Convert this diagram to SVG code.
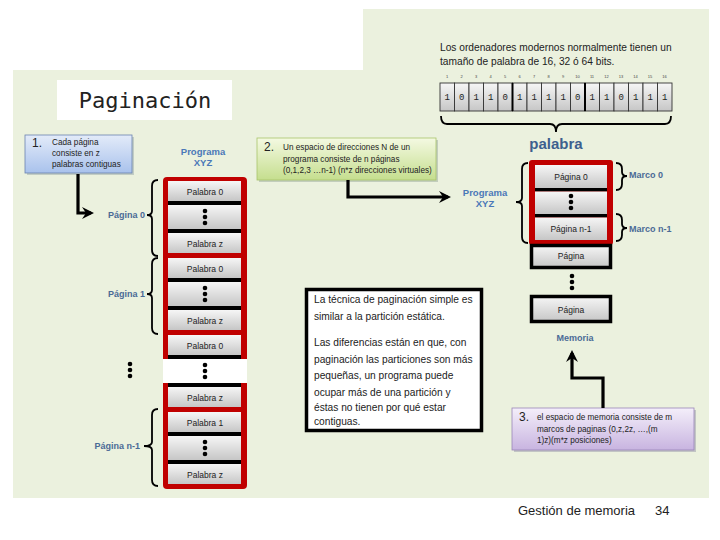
<svg xmlns="http://www.w3.org/2000/svg" width="720" height="540" viewBox="0 0 720 540">
<defs>
<linearGradient id="cell" x1="0" y1="0" x2="0" y2="1"><stop offset="0" stop-color="#f6f6f6"/><stop offset="1" stop-color="#c6c6c6"/></linearGradient>
<linearGradient id="blue" x1="0" y1="0" x2="0" y2="1"><stop offset="0" stop-color="#e3ebf9"/><stop offset="1" stop-color="#a9c2ec"/></linearGradient>
<linearGradient id="green" x1="0" y1="0" x2="0" y2="1"><stop offset="0" stop-color="#f4f9e2"/><stop offset="1" stop-color="#c5de8e"/></linearGradient>
<linearGradient id="purple" x1="0" y1="0" x2="0" y2="1"><stop offset="0" stop-color="#f4effa"/><stop offset="1" stop-color="#c8b4e0"/></linearGradient>
<marker id="ah" viewBox="0 0 12 12" refX="9" refY="6" markerWidth="12" markerHeight="12" markerUnits="userSpaceOnUse" orient="auto">
<path d="M0,0 L12,6 L0,12 L4,6 Z" fill="#000"/>
</marker>
<g id="dots"><circle cx="0" cy="0" r="2.3"/><circle cx="0" cy="6" r="2.3"/><circle cx="0" cy="12" r="2.3"/></g>
</defs>
<style>
.lbl{font-family:"Liberation Sans",Arial,sans-serif;font-size:9px;font-weight:bold;fill:#4a6a96}
.prog{font-family:"Liberation Sans",Arial,sans-serif;font-size:9.5px;font-weight:bold;fill:#4a78b8;text-anchor:middle}
.cl{font-family:"Liberation Sans",Arial,sans-serif;font-size:8.5px;fill:#222;text-anchor:middle}
.sm{font-family:"Liberation Sans",Arial,sans-serif;font-size:8.2px;fill:#222}
.num{font-family:"Liberation Sans",Arial,sans-serif;font-size:12px;fill:#222}
.txt{font-family:"Liberation Sans",Arial,sans-serif;font-size:10.2px;fill:#222}
.bit{font-family:"Liberation Mono",monospace;font-size:9px;fill:#222;text-anchor:middle}
.bn{font-family:"Liberation Sans",Arial,sans-serif;font-size:4px;fill:#444;text-anchor:middle}
.br{fill:none;stroke:#000;stroke-width:1.8}
.conn{fill:none;stroke:#000;stroke-width:3.2}
.c{fill:url(#cell)}
</style>

<rect x="0" y="0" width="720" height="540" fill="#fff"/>
<path d="M13,70 L363,70 L363,9 L709,9 L709,498 L13,498 Z" fill="#ebf1de"/>

<g id="title">
<rect x="57" y="80" width="175" height="40" fill="#fff"/>
<text x="145" y="108" text-anchor="middle" font-family="DejaVu Sans Mono, monospace" font-size="22" fill="#222">Paginación</text>
</g>

<g id="box1">
<rect x="27" y="137" width="107" height="38" fill="#9aa" opacity="0.5"/>
<rect x="25" y="135" width="107" height="38" fill="url(#blue)" stroke="#6a82b0" stroke-width="0.8"/>
<text x="32" y="147" class="num">1.</text>
<text class="sm"><tspan x="52" y="145">Cada página</tspan><tspan x="52" y="156">consiste en z</tspan><tspan x="52" y="167">palabras contiguas</tspan></text>
</g>

<g id="box2">
<rect x="259" y="140" width="179" height="42" fill="#9a9" opacity="0.5"/>
<rect x="257" y="138" width="179" height="42" fill="url(#green)" stroke="#a9c46a" stroke-width="0.8"/>
<text x="264" y="151" class="num">2.</text>
<text class="sm"><tspan x="283" y="150">Un espacio de direcciones N de un</tspan><tspan x="283" y="161.5">programa consiste de n páginas</tspan><tspan x="283" y="173">(0,1,2,3 …n-1) (n*z direcciones virtuales)</tspan></text>
</g>

<g id="box3">
<rect x="514" y="410" width="182" height="42" fill="#99a" opacity="0.5"/>
<rect x="512" y="408" width="182" height="42" fill="url(#purple)" stroke="#9a86b8" stroke-width="0.8"/>
<text x="519" y="421" class="num">3.</text>
<text class="sm"><tspan x="537" y="420">el espacio de memoria consiste de m</tspan><tspan x="537" y="431.5">marcos de paginas (0,z,2z, …,(m</tspan><tspan x="537" y="443">1)z)(m*z posiciones)</tspan></text>
</g>

<g id="note">
<rect x="306.5" y="289.5" width="175" height="141" fill="#fff" stroke="#000" stroke-width="3.5"/>
<text class="txt"><tspan x="314" y="303">La técnica de paginación simple es</tspan><tspan x="314" y="320">similar a la partición estática.</tspan><tspan x="314" y="346">Las diferencias están en que, con</tspan><tspan x="314" y="363">paginación las particiones son más</tspan><tspan x="314" y="379">pequeñas, un programa puede</tspan><tspan x="314" y="396">ocupar más de una partición y</tspan><tspan x="314" y="411">éstas no tienen por qué estar</tspan><tspan x="314" y="425">contiguas.</tspan></text>
</g>

<g id="word">
<text class="txt"><tspan x="440" y="51">Los ordenadores modernos normalmente tienen un</tspan><tspan x="440" y="65">tamaño de palabra de 16, 32 ó 64 bits.</tspan></text>
<g class="bn">
<text x="447" y="78">1</text><text x="461.5" y="78">2</text><text x="476" y="78">3</text><text x="490.5" y="78">4</text><text x="505" y="78">5</text><text x="519.5" y="78">6</text><text x="534" y="78">7</text><text x="548.5" y="78">8</text><text x="563" y="78">9</text><text x="577.5" y="78">10</text><text x="592" y="78">11</text><text x="606.5" y="78">12</text><text x="621" y="78">13</text><text x="635.5" y="78">14</text><text x="650" y="78">15</text><text x="664.5" y="78">16</text>
</g>
<g stroke="#333" stroke-width="0.9">
<rect x="440" y="83" width="14.5" height="28" class="c"/><rect x="454.5" y="83" width="14.5" height="28" class="c"/><rect x="469" y="83" width="14.5" height="28" class="c"/><rect x="483.5" y="83" width="14.5" height="28" class="c"/><rect x="498" y="83" width="14.5" height="28" class="c"/><rect x="512.5" y="83" width="14.5" height="28" class="c"/><rect x="527" y="83" width="14.5" height="28" class="c"/><rect x="541.5" y="83" width="14.5" height="28" class="c"/><rect x="556" y="83" width="14.5" height="28" class="c"/><rect x="570.5" y="83" width="14.5" height="28" class="c"/><rect x="585" y="83" width="14.5" height="28" class="c"/><rect x="599.5" y="83" width="14.5" height="28" class="c"/><rect x="614" y="83" width="14.5" height="28" class="c"/><rect x="628.5" y="83" width="14.5" height="28" class="c"/><rect x="643" y="83" width="14.5" height="28" class="c"/><rect x="657.5" y="83" width="14.5" height="28" class="c"/>
</g>
<line x1="512.5" y1="83" x2="512.5" y2="111" stroke="#000" stroke-width="2"/>
<line x1="585" y1="83" x2="585" y2="111" stroke="#000" stroke-width="2"/>
<g class="bit">
<text x="447.2" y="100">1</text><text x="461.7" y="100">0</text><text x="476.2" y="100">1</text><text x="490.7" y="100">1</text><text x="505.2" y="100">0</text><text x="519.7" y="100">1</text><text x="534.2" y="100">1</text><text x="548.7" y="100">1</text><text x="563.2" y="100">1</text><text x="577.7" y="100">0</text><text x="592.2" y="100">1</text><text x="606.7" y="100">1</text><text x="621.2" y="100">0</text><text x="635.7" y="100">1</text><text x="650.2" y="100">1</text><text x="664.7" y="100">1</text>
</g>
<path class="br" stroke-width="2.2" d="M441,116 Q441,124 447,124 L550,124 Q556,124 556,132 Q556,124 562,124 L665,124 Q671,124 671,116"/>
<text x="556" y="149" text-anchor="middle" font-family="Liberation Sans, Arial, sans-serif" font-size="15" font-weight="bold" fill="#3d5f8e">palabra</text>
</g>

<g id="program">
<text class="prog"><tspan x="203" y="155">Programa</tspan><tspan x="203" y="166">XYZ</tspan></text>
<rect x="163" y="177" width="84" height="312" rx="4" fill="#c00000"/>
<rect x="168" y="181" width="73" height="20" class="c"/><rect x="168" y="201" width="73" height="4"/>
<rect x="168" y="205" width="73" height="24" class="c"/><use href="#dots" x="205" y="211"/>
<rect x="168" y="229" width="73" height="4"/><rect x="168" y="233" width="73" height="20" class="c"/>
<text x="205" y="195" class="cl">Palabra 0</text><text x="205" y="247" class="cl">Palabra z</text>
<rect x="168" y="258" width="73" height="20" class="c"/><rect x="168" y="278" width="73" height="4"/>
<rect x="168" y="282" width="73" height="24" class="c"/><use href="#dots" x="205" y="288"/>
<rect x="168" y="306" width="73" height="4"/><rect x="168" y="310" width="73" height="20" class="c"/>
<text x="205" y="272" class="cl">Palabra 0</text><text x="205" y="324" class="cl">Palabra z</text>
<rect x="168" y="335" width="73" height="20" class="c"/><rect x="168" y="355" width="73" height="4"/>
<rect x="163" y="359" width="84" height="24" fill="#fff"/><use href="#dots" x="205" y="365"/>
<rect x="168" y="383" width="73" height="4"/><rect x="168" y="387" width="73" height="20" class="c"/>
<text x="205" y="349" class="cl">Palabra 0</text><text x="205" y="401" class="cl">Palabra z</text>
<rect x="168" y="412" width="73" height="20" class="c"/><rect x="168" y="432" width="73" height="4"/>
<rect x="168" y="436" width="73" height="24" class="c"/><use href="#dots" x="205" y="442"/>
<rect x="168" y="460" width="73" height="4"/><rect x="168" y="464" width="73" height="20" class="c"/>
<text x="205" y="426" class="cl">Palabra 1</text><text x="205" y="478" class="cl">Palabra z</text>
</g>

<g id="pages">
<text x="145" y="218" class="lbl" text-anchor="end">Página 0</text>
<text x="145" y="297" class="lbl" text-anchor="end">Página 1</text>
<use href="#dots" x="130" y="364"/>
<text x="140" y="449" class="lbl" text-anchor="end">Página n-1</text>
<path class="br" d="M158,180 Q152,180 152,186 L152,211 Q152,215 147,215 Q152,215 152,219 L152,250 Q152,256 158,256"/>
<path class="br" d="M158,258 Q152,258 152,264 L152,290 Q152,294 147,294 Q152,294 152,298 L152,328 Q152,334 158,334"/>
<path class="br" d="M158,409 Q152,409 152,415 L152,442 Q152,446 144,446 Q152,446 152,450 L152,480 Q152,486 158,486"/>
</g>

<g id="memory">
<text class="prog"><tspan x="485" y="196">Programa</tspan><tspan x="485" y="207">XYZ</tspan></text>
<path class="br" d="M528,163 Q522,163 522,169 L522,198 Q522,202 516,202 Q522,202 522,206 L522,237 Q522,243 528,243"/>
<rect x="529" y="160" width="84" height="85" rx="3" fill="#c00000"/>
<rect x="535" y="165" width="72" height="23" class="c"/><rect x="535" y="188" width="72" height="3.5"/>
<rect x="535" y="191.5" width="72" height="22.5" class="c"/><use href="#dots" x="571" y="196"/>
<rect x="535" y="214" width="72" height="3.5"/><rect x="535" y="217.5" width="72" height="22.5" class="c"/>
<text x="571" y="180" class="cl">Página 0</text><text x="571" y="232" class="cl">Página n-1</text>
<rect x="531.5" y="245.5" width="79" height="22" class="c" stroke="#000" stroke-width="3.5"/>
<text x="571" y="259" class="cl">Página</text>
<use href="#dots" x="572" y="276"/>
<rect x="531.5" y="296.5" width="79" height="25" class="c" stroke="#000" stroke-width="3.5"/>
<text x="571" y="313" class="cl">Página</text>
<text x="575" y="341" class="lbl" text-anchor="middle">Memoria</text>
<path class="br" d="M616,163 Q622,163 622,169 L622,172 Q622,176 627,176 Q622,176 622,180 L622,184 Q622,190 616,190"/>
<path class="br" d="M616,214 Q622,214 622,220 L622,224 Q622,228 627,228 Q622,228 622,232 L622,235 Q622,241 616,241"/>
<text x="629" y="178" class="lbl">Marco 0</text>
<text x="629" y="232" class="lbl">Marco n-1</text>
</g>

<g id="connectors">
<path class="conn" d="M78,174 L78,213 L91,213" marker-end="url(#ah)"/>
<path class="conn" d="M348,180 L348,197 L448,197" marker-end="url(#ah)"/>
<path class="conn" d="M603,408 L603,378 L572,378 L572,353" marker-end="url(#ah)"/>
</g>

<g id="footer">
<text x="518" y="515" font-family="Liberation Sans, Arial, sans-serif" font-size="13" fill="#222">Gestión de memoria</text>
<text x="655" y="515" font-family="Liberation Sans, Arial, sans-serif" font-size="13" fill="#222">34</text>
</g>
</svg>
